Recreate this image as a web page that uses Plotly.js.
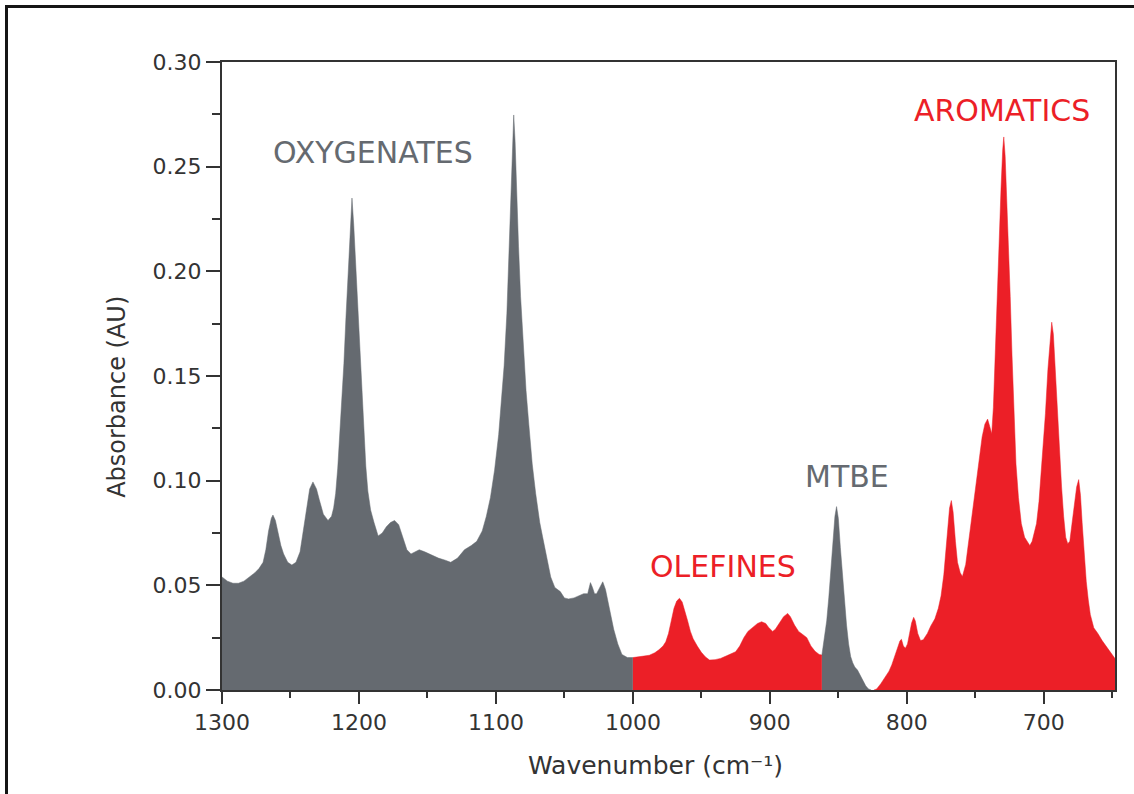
<!DOCTYPE html>
<html>
<head>
<meta charset="utf-8">
<script src="https://cdn.plot.ly/plotly-3.0.1.min.js"></script>
<style>
  html, body { margin: 0; padding: 0; background: #fff; }
  #frame { position: absolute; left: 5px; top: 5px; width: 1300px; height: 1000px;
           border: 3px solid #151515; box-sizing: border-box; }
  #chart { position: absolute; left: 0; top: 0; width: 1134px; height: 794px; }
</style>
</head>
<body>
<div id="frame"></div>
<div id="chart"></div>
<script>
// FTIR absorbance spectrum of a gasoline sample, split into component bands.

// Oxygenates band (1300 - 1000 cm-1)
const oxyWavenumber = [1300,1296,1292,1288,1284,1280,1276,1273,1270,1268,1266,1264,1262.8,1261,1259,1257,1255,1252,1249,1246,1243,1241,1238,1236,1233.6,1231,1229,1226,1222.6,1220,1218.5,1217,1215.5,1214,1212.5,1211,1209.5,1208,1206.5,1205.1,1203.8,1202.5,1201,1199.5,1198,1196.5,1195,1193.5,1191.5,1189,1186,1183,1180,1177,1174,1171,1168,1165,1162,1159,1156,1152,1147,1142,1137,1133,1128,1123,1118,1114,1110,1107,1104,1101,1098,1096,1094,1092,1090.5,1089,1087.8,1087,1086,1085,1083.5,1082,1080,1078,1076,1073.5,1071,1068,1066,1063,1060,1057,1053,1050,1047,1043,1039,1036,1033,1031,1029.5,1028,1026.5,1024,1022,1020,1017,1014,1011,1008,1004,1000];
const oxyAbsorbance = [0.054,0.052,0.051,0.051,0.052,0.054,0.056,0.058,0.061,0.067,0.076,0.082,0.0836,0.081,0.075,0.069,0.065,0.061,0.0597,0.061,0.066,0.075,0.088,0.096,0.0994,0.096,0.091,0.084,0.081,0.083,0.087,0.094,0.106,0.121,0.138,0.156,0.178,0.200,0.222,0.235,0.222,0.205,0.190,0.166,0.146,0.125,0.107,0.095,0.086,0.080,0.0736,0.075,0.078,0.080,0.081,0.079,0.073,0.067,0.065,0.066,0.067,0.066,0.0644,0.063,0.062,0.061,0.063,0.067,0.069,0.071,0.076,0.083,0.092,0.105,0.122,0.137,0.155,0.180,0.210,0.240,0.262,0.2747,0.262,0.240,0.212,0.188,0.163,0.143,0.127,0.108,0.094,0.080,0.0734,0.064,0.054,0.049,0.047,0.044,0.0435,0.044,0.045,0.046,0.046,0.0513,0.049,0.046,0.046,0.049,0.0517,0.048,0.038,0.029,0.022,0.017,0.0155,0.0155];

// Olefines band (1000 - 862 cm-1)
const oleWavenumber = [1000,996,992,988,984,981,978,976,974,972,970,968,966,964,962,960,958,956,953,950,947,944,940,936,932,928,925,922,919,916,912,909,906,903,901,898,896,893,890,887,885,882,879,876,873,870,867,864,862];
const oleAbsorbance = [0.0155,0.0160,0.0162,0.0166,0.0178,0.0192,0.021,0.023,0.027,0.033,0.039,0.0425,0.0438,0.042,0.038,0.033,0.028,0.0245,0.021,0.018,0.0158,0.0143,0.0145,0.0151,0.0162,0.0172,0.0183,0.021,0.025,0.028,0.0302,0.0318,0.0326,0.0318,0.030,0.028,0.029,0.032,0.035,0.0366,0.035,0.031,0.028,0.0265,0.025,0.021,0.0185,0.017,0.0167];

// MTBE band (862 - 826 cm-1)
const mtbeWavenumber = [862,860,858.5,857,855.5,854,852.5,851.3,850,848.5,847,845.5,844,842.5,841,839.5,838,836,834,832,830,828,826];
const mtbeAbsorbance = [0.0167,0.025,0.033,0.044,0.057,0.071,0.083,0.0876,0.082,0.068,0.054,0.041,0.031,0.022,0.016,0.013,0.011,0.0095,0.007,0.0045,0.002,0.0005,0];

// Aromatics band (824 - 648 cm-1)
const aroWavenumber = [824,822,819,816,813,811,809,807,805,803.9,802.5,801,799.5,798,796.5,795,793.8,792,790,788,785,782.5,779.5,777,775,773,771.5,770,768.8,767.5,766.2,764.5,763,761,759.4,757,755,753,751,749,747,745,743,741,739.5,738,736.8,735.8,734.8,733.6,732.4,731.2,730,729.2,728.2,727,725.8,724.5,723.2,721.8,720.3,718.5,716.4,714,712,710.2,708.5,706.8,705.3,703.5,702,700.4,698.8,697,695.5,694.2,693,691.5,690,688.5,687,685.5,684,682.5,681,679.5,678,676,674.5,673.2,672,670.5,669,667.5,666,663.5,660.5,657.4,654.5,652,650,648];
const aroAbsorbance = [0,0.0005,0.003,0.006,0.009,0.012,0.016,0.020,0.0235,0.0242,0.021,0.020,0.022,0.027,0.032,0.0347,0.033,0.027,0.0236,0.024,0.027,0.0306,0.034,0.039,0.045,0.055,0.066,0.078,0.087,0.0905,0.085,0.071,0.061,0.056,0.0542,0.060,0.070,0.080,0.091,0.102,0.112,0.121,0.127,0.1294,0.126,0.1224,0.135,0.155,0.172,0.192,0.217,0.240,0.258,0.2642,0.255,0.235,0.212,0.188,0.160,0.133,0.108,0.092,0.0795,0.073,0.0705,0.069,0.071,0.075,0.0795,0.090,0.103,0.1145,0.132,0.153,0.168,0.1757,0.170,0.152,0.132,0.112,0.097,0.083,0.073,0.0699,0.071,0.079,0.088,0.097,0.1005,0.093,0.080,0.064,0.052,0.043,0.036,0.0297,0.027,0.0236,0.021,0.019,0.0166,0.015];

// Band labels
const bandLabels = ['OXYGENATES', 'OLEFINES', 'MTBE', 'AROMATICS'];
const bandLabelX = [1190, 934.3, 843.4, 730.3];
const bandLabelY = [0.2566, 0.0592, 0.1022, 0.277];

const GREY = '#656a70';
const RED = '#ec1f27';
const labelColors = [GREY, RED, GREY, RED];
const AXIS = '#333333';
const FONT = 'DejaVu Sans, Arial, sans-serif';

function band(x, y, color) {
  return {
    type: 'scatter', mode: 'lines', x: x, y: y,
    fill: 'tozeroy', fillcolor: color,
    line: { color: color, width: 0.5 },
    hoverinfo: 'x+y', showlegend: false
  };
}

const traces = [
  band(oxyWavenumber, oxyAbsorbance, GREY),
  band(oleWavenumber, oleAbsorbance, RED),
  band(mtbeWavenumber, mtbeAbsorbance, GREY),
  band(aroWavenumber, aroAbsorbance, RED)
];

const annotations = bandLabels.map((t, i) => ({
  text: t, x: bandLabelX[i], y: bandLabelY[i], xref: 'x', yref: 'y',
  showarrow: false, xanchor: 'center', yanchor: 'middle',
  font: { family: FONT, size: 30, color: labelColors[i] }
}));

annotations.push({
  text: 'Absorbance (AU)', xref: 'paper', yref: 'paper',
  x: -0.117, y: 0.466, textangle: -90, showarrow: false,
  xanchor: 'center', yanchor: 'middle',
  font: { family: FONT, size: 24, color: '#333' }
});
annotations.push({
  text: 'Wavenumber (cm⁻¹)', xref: 'paper', yref: 'paper',
  x: 0.485, y: -0.121, showarrow: false,
  xanchor: 'center', yanchor: 'middle',
  font: { family: FONT, size: 25, color: '#333' }
});

const layout = {
  width: 1134, height: 794,
  margin: { l: 222, r: 19, t: 62, b: 104 },
  paper_bgcolor: 'rgba(0,0,0,0)',
  plot_bgcolor: '#ffffff',
  font: { family: FONT, color: '#333' },
  xaxis: {
    range: [1300, 648], dtick: 100, tick0: 0,
    showgrid: false, zeroline: false,
    showline: true, linecolor: AXIS, linewidth: 2, mirror: true,
    ticks: 'outside', ticklen: 12, tickwidth: 2, tickcolor: AXIS,
    minor: { dtick: 50, tick0: 0, ticks: 'outside', ticklen: 6, tickwidth: 2, tickcolor: AXIS },
    tickfont: { family: FONT, size: 22, color: '#333' }
  },
  yaxis: {
    range: [0, 0.30], dtick: 0.05, tick0: 0, tickformat: '.2f',
    showgrid: false, zeroline: false,
    showline: true, linecolor: AXIS, linewidth: 2, mirror: true,
    ticks: 'outside', ticklen: 14, tickwidth: 2, tickcolor: AXIS,
    minor: { dtick: 0.025, tick0: 0, ticks: 'outside', ticklen: 8, tickwidth: 2, tickcolor: AXIS },
    tickfont: { family: FONT, size: 22, color: '#333' }
  },
  // inward ticks on the top and right frame edges
  xaxis2: {
    overlaying: 'x', anchor: 'y', side: 'top', range: [1300, 648],
    dtick: 50, tick0: 0, ticks: 'inside', ticklen: 4, tickwidth: 2, tickcolor: AXIS,
    showticklabels: false, showgrid: false, zeroline: false, showline: false
  },
  yaxis2: {
    overlaying: 'y', anchor: 'x', side: 'right', range: [0, 0.30],
    dtick: 0.025, tick0: 0, ticks: 'inside', ticklen: 4, tickwidth: 2, tickcolor: AXIS,
    showticklabels: false, showgrid: false, zeroline: false, showline: false
  },
  annotations: annotations
};

Plotly.newPlot('chart', traces, layout, { displayModeBar: false, responsive: false });
</script>
</body>
</html>
